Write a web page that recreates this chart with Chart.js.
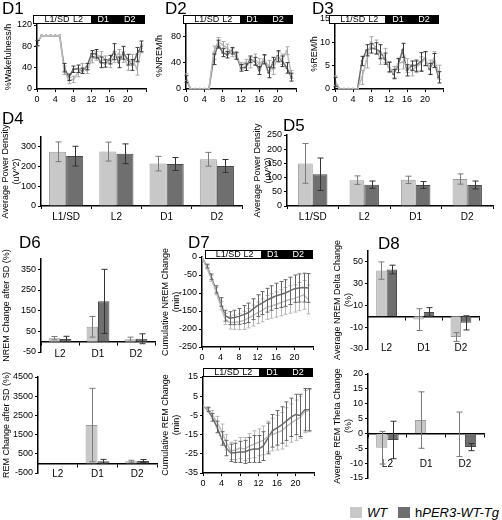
<!DOCTYPE html>
<html lang="en">
<head>
<meta charset="UTF-8">
<title>hPER3 sleep panels</title>
<script src="https://cdn.jsdelivr.net/npm/chart.js"></script>
<style>
  body { margin: 0; background: #fff; font-family: Arial, "Liberation Sans", sans-serif; }
  #fig { position: relative; width: 502px; height: 520px; overflow: hidden; }
  .box { position: absolute; }
  .tag { position: absolute; font-size: 17px; line-height: 17px; color: #000; z-index: 3; }
  .day { position: absolute; height: 9px; box-sizing: border-box; border: 1px solid #000; background: #000; z-index: 2; }
  .day .w { position: absolute; left: 0; top: 0; bottom: 0; background: #fff; }
  .day span { position: absolute; top: -1px; font-size: 9px; line-height: 9px; transform: translateX(-50%); white-space: nowrap; }
  .lg { position: absolute; font-size: 13px; line-height: 13px; }
  .sq { position: absolute; width: 12px; height: 11px; }
</style>
</head>
<body>
<div id="fig">
  <div class="tag" style="left:2px;top:0px">D1</div>
  <div class="tag" style="left:165px;top:0px">D2</div>
  <div class="tag" style="left:312px;top:0px">D3</div>
  <div class="tag" style="left:2px;top:110px">D4</div>
  <div class="tag" style="left:283px;top:117px">D5</div>
  <div class="tag" style="left:19px;top:234px">D6</div>
  <div class="tag" style="left:188px;top:234px">D7</div>
  <div class="tag" style="left:378px;top:235px">D8</div>

  <div class="sq" style="left:350px;top:507px;background:#c8c8c8"></div>
  <div class="lg" style="left:367px;top:506px"><i>WT</i></div>
  <div class="sq" style="left:398px;top:507px;background:#6f6f6f"></div>
  <div class="lg" style="left:415px;top:506px">h<i>PER3-WT-Tg</i></div>
</div>

<script>
// ---- данные ----
const hours = [0,1,2,3,4,5,6,7,8,9,10,11,12,13,14,15,16,17,18,19,20,21,22,23];

// D1 %Wakefulness/h
const wakeWt    = [86,100,100,100,100,100,35,16,18,30,40,35,55,62,62,55,48,60,66,60,45,55,38,76];
const wakeWtErr = [5,0,0,0,0,0,8,6,6,7,8,6,6,8,8,7,8,10,8,10,10,10,12,8];
const wakeTg    = [86,100,100,100,100,100,40,22,37,38,34,42,66,66,50,48,55,70,50,68,55,45,65,80];
const wakeTgErr = [5,0,0,0,0,0,8,6,6,7,5,6,6,8,10,7,8,15,10,12,10,10,13,10];

// D2 %NREM/h
const nremWt    = [18,0,0,0,0,0,55,72,67,62,55,52,35,40,40,45,38,45,35,30,48,45,58,22];
const nremWtErr = [5,0,0,0,0,0,10,6,5,6,6,5,5,5,8,8,8,6,8,8,8,8,6,6];
const nremTg    = [15,0,0,0,0,0,45,68,55,52,58,50,32,33,45,42,28,45,25,40,50,42,32,18];
const nremTgErr = [5,0,0,0,0,0,8,6,6,5,5,5,5,5,5,6,6,7,8,8,8,8,8,6];

// D3 %REM/h
const remWt    = [1.8,0,0,0,0,0,2.5,6,10,9,6.5,7.2,4.7,3.6,5.4,5.8,5,4,4.7,5.4,6.5,4.7,6.5,3.6];
const remWtErr = [1,0,0,0,0,0,1.5,1.5,1.2,1.5,1.2,1.5,1.2,1.2,1.2,1.5,1.5,1.2,1.2,1.5,1.5,1.5,1.5,1.5];
const remTg    = [1.5,0,0,0,0,0,6,8.3,8.7,8.7,8,6.5,4.7,3.2,5,8.3,4,5,5,5.8,6.5,4.3,6.1,2.5];
const remTgErr = [1,0,0,0,0,0,1,1.2,1,1.2,1.5,1.2,1,1,1.5,1.5,1.2,1,1.2,2,1.5,1.2,1.5,1.2];

// D4 / D5 power density
const powerCats = ['L1/SD', 'L2', 'D1', 'D2'];
const d4Wt = [275, 276, 215, 237], d4WtErr = [50, 48, 37, 35];
const d4Tg = [253, 265, 213, 203], d4TgErr = [50, 50, 33, 33];
const d5Wt = [150, 91, 92, 95],    d5WtErr = [70, 15, 13, 18];
const d5Tg = [112, 75, 74, 74],    d5TgErr = [57, 13, 12, 14];

// D6 / D8 change after SD
const changeCats = ['L2', 'D1', 'D2'];
const d6NremWt = [17, 72, 12],    d6NremWtErr = [8, 50, 10];
const d6NremTg = [13, 195, 14],   d6NremTgErr = [13, 155, 24];
const d6RemWt  = [0, 2000, 110],  d6RemWtErr  = [0, 1910, 50];
const d6RemTg  = [0, 110, 120],   d6RemTgErr  = [0, 100, 80];
const d8DeltaWt = [42, -3, -19],  d8DeltaWtErr = [8, 10, 4];
const d8DeltaTg = [43, 4, -6],    d8DeltaTgErr = [4, 4, 6.5];
const d8ThetaWt = [-4.8, 4.5, -0.3], d8ThetaWtErr = [5.5, 9.5, 7.5];
const d8ThetaTg = [-2.2, 0, -4.6],   d8ThetaTgErr = [6.3, 0, 1.2];

// D7 cumulative change
const cumNremWt = [0,-28,-60,-95,-135,-172,-182,-181,-180,-176,-170,-163,-155,-148,-140,-136,-132,-127,-122,-118,-115,-110,-105,-118];
const cumNremTg = [0,-25,-55,-90,-125,-163,-170,-168,-165,-160,-155,-145,-135,-128,-120,-114,-108,-104,-100,-94,-88,-86,-85,-86];
const cumNremErr = [0,5,8,10,12,15,18,20,22,25,27,29,30,32,33,34,35,36,37,38,38,39,40,40];
const cumRemWt = [0,-1.5,-4.5,-8.5,-13,-19,-23.5,-23,-22,-22.5,-21,-20,-19,-18,-16,-15,-14,-13,-11,-9,-7.5,-6,-3,-2.5];
const cumRemTg = [0,-2,-6,-11,-17,-22,-24.5,-24.5,-24,-24,-23,-22.5,-22.5,-21,-17,-13,-11.5,-10,-8,-6,-4.5,-5,-2,-2];
const cumRemErr = [0,1,2,3,3.5,4,4.5,5,5.5,6,6.5,7,7,7.5,8,8.5,9,9.5,10,10,10.5,11,11,11];

// ---- оформление ----
const LIGHT = '#c8c8c8', LIGHT_EDGE = '#9c9c9c';
const DARK = '#6f6f6f', DARK_EDGE = '#4a4a4a';
const LIGHT_LINE = '#bdbdbd', DARK_LINE = '#6a6a6a';

Chart.defaults.font.family = 'Arial, "Liberation Sans", sans-serif';
Chart.defaults.color = '#000';

/* усы погрешностей */
const errorBars = {
  id: 'errorBars',
  afterDatasetsDraw(chart) {
    const ctx = chart.ctx, ys = chart.scales.y;
    chart.data.datasets.forEach((ds, di) => {
      if (!ds.err) return;
      const meta = chart.getDatasetMeta(di);
      ctx.save();
      ctx.strokeStyle = ds.errColor;
      ctx.lineWidth = 1;
      meta.data.forEach((el, i) => {
        const e = ds.err[i];
        if (!e) return;
        const d = ds.data[i];
        const v = typeof d === 'object' ? d.y : d;
        const top = ys.getPixelForValue(v + e), bot = ys.getPixelForValue(v - e);
        const x = Math.round(el.x) + 0.5, c = ds.errCap;
        ctx.beginPath();
        ctx.moveTo(x, top); ctx.lineTo(x, bot);
        ctx.moveTo(x - c, top); ctx.lineTo(x + c, top);
        ctx.moveTo(x - c, bot); ctx.lineTo(x + c, bot);
        ctx.stroke();
      });
      ctx.restore();
    });
  }
};
Chart.register(errorBars);

const fig = document.getElementById('fig');

// b: l,t,w,h — канва; pt/pr/pb — отступы до области графика
function addCanvas(b) {
  const div = document.createElement('div');
  div.className = 'box';
  div.style.cssText = `left:${b.l}px;top:${b.t}px;width:${b.w}px;height:${b.h}px`;
  const cv = document.createElement('canvas');
  div.appendChild(cv);
  fig.appendChild(div);
  return cv;
}

function dayBar(left, top, width, white) {
  const d = document.createElement('div');
  d.className = 'day';
  d.style.cssText = `left:${left}px;top:${top}px;width:${width}px`;
  d.innerHTML = `<div class="w" style="width:${white}px"></div>
    <span style="left:21%">L1/SD</span><span style="left:40%">L2</span>
    <span style="left:63%;color:#fff">D1</span><span style="left:87%;color:#fff">D2</span>`;
  fig.appendChild(d);
}

function axisY(min, max, step, title, w) {
  return {
    min, max,
    ticks: { stepSize: step, font: { size: 9 }, color: '#000', padding: 2, callback: v => String(v) },
    grid: { drawOnChartArea: false, tickLength: 3, color: '#000' },
    border: { color: '#000', width: 1.5 },
    title: { display: true, text: title, color: '#000', font: { size: 9, lineHeight: 1.2 }, padding: { top: 1, bottom: 0 } },
    afterFit: s => { s.width = w; }
  };
}

function axisHours(h) {
  return {
    type: 'linear', min: 0, max: 24,
    ticks: { stepSize: 4, font: { size: 9 }, color: '#000', padding: 2, callback: v => v === 24 ? '' : String(v) },
    grid: { drawOnChartArea: false, tickLength: 3, color: '#000' },
    border: { color: '#000', width: 1.5 },
    afterFit: s => { s.height = h; }
  };
}

function axisCat(position, pad, h) {
  const a = {
    position,
    ticks: { font: { size: 10 }, color: '#000', padding: pad },
    grid: { drawOnChartArea: false, tickLength: 3, color: '#000', offset: true },
    border: { color: '#000', width: 1.5 }
  };
  if (h) a.afterFit = s => { s.height = h; };
  return a;
}

function lineChart(b, yAxis, wt, wtErr, tg, tgErr, radius, errCols) {
  return new Chart(addCanvas(b), {
    type: 'line',
    data: {
      datasets: [
        { data: hours.map((h, i) => ({ x: h, y: wt[i] })), err: wtErr, errColor: errCols[0], errCap: 2,
          borderColor: LIGHT_LINE, backgroundColor: LIGHT_LINE, borderWidth: 1.5, pointRadius: radius, pointBorderWidth: 0 },
        { data: hours.map((h, i) => ({ x: h, y: tg[i] })), err: tgErr, errColor: errCols[1], errCap: 2,
          borderColor: DARK_LINE, backgroundColor: DARK_LINE, borderWidth: 1.5, pointRadius: radius, pointBorderWidth: 0 }
      ]
    },
    options: {
      responsive: true, maintainAspectRatio: false, animation: false,
      layout: { padding: { top: b.pt, right: b.pr, bottom: 0, left: 0 } },
      plugins: { legend: { display: false }, tooltip: { enabled: false } },
      scales: { x: axisHours(b.xh), y: yAxis }
    }
  });
}

function barChart(b, cats, wt, wtErr, tg, tgErr, yAxis, xAxis, pct) {
  return new Chart(addCanvas(b), {
    type: 'bar',
    data: {
      labels: cats,
      datasets: [
        { data: wt, err: wtErr, errColor: '#7a7a7a', errCap: 3, backgroundColor: LIGHT, borderColor: LIGHT_EDGE,
          borderWidth: 1, categoryPercentage: pct, barPercentage: 1 },
        { data: tg, err: tgErr, errColor: '#333', errCap: 3, backgroundColor: DARK, borderColor: DARK_EDGE,
          borderWidth: 1, categoryPercentage: pct, barPercentage: 1 }
      ]
    },
    options: {
      responsive: true, maintainAspectRatio: false, animation: false,
      layout: { padding: { top: b.pt, right: b.pr, bottom: b.pb || 0, left: 0 } },
      plugins: { legend: { display: false }, tooltip: { enabled: false } },
      scales: { x: xAxis, y: yAxis }
    }
  });
}

/* D1–D3 */
const hourErr = ['#a8a8a8', '#3a3a3a'];
lineChart({ l: 2, t: -5, w: 148, h: 110, pt: 30, pr: 4, xh: 16 },
  axisY(0, 120, 20, '%Wakefulness/h', 35), wakeWt, wakeWtErr, wakeTg, wakeTgErr, 1.3, hourErr);
lineChart({ l: 153, t: -7, w: 147, h: 112, pt: 30, pr: 4, xh: 16 },
  axisY(0, 100, 20, '%NREM/h', 33), nremWt, nremWtErr, nremTg, nremTgErr, 1.3, hourErr);
lineChart({ l: 308, t: -11, w: 139, h: 116, pt: 30, pr: 4, xh: 16 },
  axisY(0, 15, 5, '%REM/h', 27), remWt, remWtErr, remTg, remTgErr, 1.3, hourErr);
dayBar(33, 15, 112, 57);
dayBar(183, 15, 110, 56);
dayBar(329, 15, 110, 55);

/* D4, D5 */
barChart({ l: -1, t: 107, w: 247, h: 117, pt: 30, pr: 4 }, powerCats, d4Wt, d4WtErr, d4Tg, d4TgErr,
  axisY(0, 350, 50, ['Average Power Density', '(uV^2)'], 42), axisCat('bottom', 2, 18), 0.68);
barChart({ l: 251, t: 105, w: 246, h: 119, pt: 30, pr: 4 }, powerCats, d5Wt, d5WtErr, d5Tg, d5TgErr,
  axisY(0, 250, 50, ['Average Power Density', '(uV^2)'], 36), axisCat('bottom', 2, 18), 0.57);

/* D6 */
barChart({ l: 0, t: 229, w: 159, h: 143, pt: 30, pr: 4, pb: 20 }, changeCats, d6NremWt, d6NremWtErr, d6NremTg, d6NremTgErr,
  axisY(-50, 400, 50, 'NREM Change after SD (%)', 41), axisCat({ y: 0 }, 4), 0.6);
barChart({ l: 0, t: 347, w: 161, h: 146, pt: 30, pr: 4, pb: 20 }, changeCats, d6RemWt, d6RemWtErr, d6RemTg, d6RemTgErr,
  axisY(-500, 4500, 500, 'REM Change after SD (%)', 38), axisCat({ y: 0 }, 2), 0.6);

/* D7 */
const cumErr = ['#b8b8b8', '#666'];
lineChart({ l: 159, t: 227, w: 158, h: 136, pt: 30, pr: 4, xh: 16 },
  axisY(-250, 0, 50, ['Cumulative NREM Change', '(min)'], 43), cumNremWt, cumNremErr, cumNremTg, cumNremErr, 0, cumErr);
lineChart({ l: 159, t: 347, w: 159, h: 142, pt: 30, pr: 4, xh: 16 },
  axisY(-35, 15, 5, ['Cumulative REM Change', '(min)'], 44), cumRemWt, cumRemErr, cumRemTg, cumRemErr, 0, cumErr);
dayBar(205, 250, 108, 55);
dayBar(203, 368, 110, 55);

/* D8 */
barChart({ l: 331, t: 221, w: 160, h: 148, pt: 30, pr: 4, pb: 20 }, changeCats, d8DeltaWt, d8DeltaWtErr, d8DeltaTg, d8DeltaTgErr,
  axisY(-30, 60, 10, ['Average NREM Delta Change', '(%)'], 37), axisCat({ y: 0 }, 23), 0.56);
barChart({ l: 331, t: 344, w: 163, h: 154, pt: 30, pr: 4, pb: 20 }, changeCats, d8ThetaWt, d8ThetaWtErr, d8ThetaTg, d8ThetaTgErr,
  axisY(-15, 20, 5, ['Average REM Theta Change', '(%)'], 37), axisCat({ y: 0 }, 22), 0.58);
</script>
</body>
</html>
